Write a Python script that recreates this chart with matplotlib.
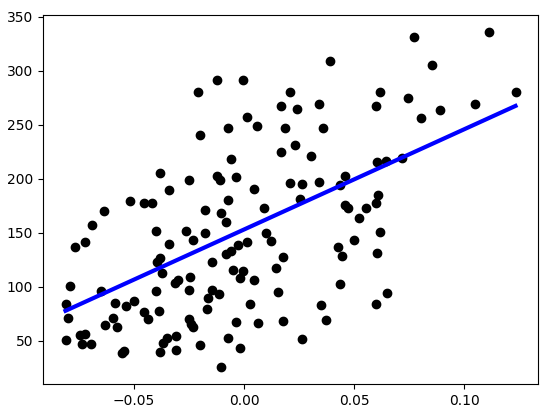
import matplotlib
matplotlib.use("Agg")
import matplotlib.pyplot as plt
from matplotlib.ticker import MultipleLocator

x_vals = [
    -0.0381, -0.0343, -0.0520, -0.0456, -0.0416, -0.0638, -0.0692, -0.0402, -0.0724, -0.0769,
    -0.0341, -0.0381, -0.0396, -0.0372, -0.0792, -0.0402, -0.0650, -0.0811, -0.0588, -0.0502,
    -0.0535, -0.0801, -0.0456, -0.0388, -0.0434, -0.0597, -0.0630, -0.0577, -0.0747, -0.0724,
    -0.0811, -0.0738, -0.0695, -0.0352, -0.0366, -0.0547, -0.0554, -0.0381,
    -0.0207, -0.0121, -0.0003, 0.0209, 0.0169, 0.0015, 0.0060, -0.0071, 0.0186, -0.0199,
    0.0169, -0.0059, -0.0252, -0.0121, -0.0109, -0.0036, 0.0047, -0.0071, 0.0209, -0.0177,
    -0.0104, 0.0092, -0.0082, -0.0263, -0.0177, -0.0230, 0.0100, 0.0122, 0.0015, -0.0026,
    -0.0059, -0.0082, -0.0144, 0.0178, 0.0145, -0.0049, -0.0003, -0.0018, 0.0047, -0.0245,
    -0.0298, -0.0313, -0.0252, -0.0144, -0.0112, -0.0165, 0.0155, 0.0027, -0.0169, -0.0252,
    -0.0242, -0.0230, -0.0036, 0.0062, 0.0178, -0.0308, -0.0199, -0.0071, -0.0018, -0.0308,
    -0.0104,
    0.0390, 0.0242, 0.0341, 0.0617, 0.0598, 0.0745, 0.0357, 0.0231, 0.0304, 0.0264,
    0.0341, 0.0458, 0.0435, 0.0606, 0.0644, 0.0719, 0.0254, 0.0609, 0.0598, 0.0458,
    0.0471, 0.0553, 0.0523, 0.0617, 0.0500, 0.0427, 0.0446, 0.0606, 0.0435, 0.0650,
    0.0598, 0.0349, 0.0372, 0.0264,
    0.0771, 0.1111, 0.0854, 0.0802, 0.0888, 0.1050, 0.1233,
]
y_vals = [
    205.3, 189.8, 179.6, 177.3, 177.3, 169.9, 157.1, 151.6, 141.0, 137.0,
    139.5, 126.8, 122.5, 113.0, 100.6, 96.0, 95.6, 84.0, 85.2, 87.0,
    82.1, 71.3, 76.9, 77.6, 70.4, 71.3, 64.2, 63.0, 54.9, 56.2,
    50.6, 46.9, 46.9, 52.1, 48.1, 40.7, 38.6, 39.2,
    280.5, 291.4, 291.4, 280.5, 267.3, 257.1, 248.8, 246.9, 246.9, 240.5,
    225.0, 218.5, 198.8, 202.5, 199.1, 201.8, 190.5, 180.6, 196.0, 170.8,
    168.5, 173.1, 159.5, 151.6, 149.7, 143.2, 150.0, 142.6, 141.4, 138.6,
    133.3, 130.3, 123.1, 127.8, 117.3, 115.5, 114.2, 107.7, 106.2, 109.3,
    106.2, 103.1, 96.9, 96.9, 93.2, 89.5, 95.4, 84.0, 79.4, 70.4,
    65.5, 63.0, 67.6, 66.4, 68.5, 54.6, 46.3, 52.1, 43.2, 41.4,
    25.3,
    309.0, 264.5, 269.2, 280.5, 267.3, 274.7, 246.9, 231.2, 221.3, 195.1,
    196.6, 202.1, 194.4, 215.1, 216.7, 219.4, 181.2, 185.2, 177.3, 175.3,
    173.1, 172.4, 163.6, 150.3, 143.2, 137.0, 128.7, 131.2, 102.5, 94.2,
    84.0, 83.1, 69.2, 51.6,
    331.5, 336.1, 305.5, 256.2, 263.9, 269.2, 280.5,
]

line_x = [-0.0811, 0.1233]
line_y = [77.6, 267.4]

fig = plt.figure(figsize=(5.6, 4.18), dpi=100)
ax = fig.add_axes([43 / 560, 1 - 384 / 418, 495 / 560, 369 / 418])
ax.scatter(x_vals, y_vals, color="black")
ax.plot(line_x, line_y, color="blue", linewidth=3)
ax.xaxis.set_major_locator(MultipleLocator(0.05))
fig.savefig("out.png", dpi=100)
